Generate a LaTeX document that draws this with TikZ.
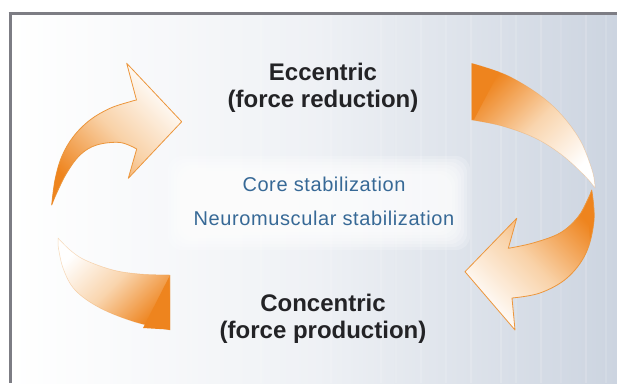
\documentclass[tikz,border=0pt]{standalone}
\usepackage{fontspec}
\setmainfont{Liberation Sans}
\newfontfamily\bluefont[LetterSpace=3]{Liberation Sans}
\definecolor{org}{RGB}{238,132,30}
\definecolor{orgmid}{RGB}{245,185,120}
\definecolor{orgline}{RGB}{236,150,60}
\definecolor{bgR}{RGB}{204,212,224}
\definecolor{txt}{RGB}{35,35,38}
\definecolor{blu}{RGB}{55,105,150}
\definecolor{framec}{RGB}{125,125,132}
\tikzset{
  arrowbody/.style={draw=orgline, line width=0.8pt, line join=round},
  piecebody/.style={draw=orgline, draw opacity=0.35, line width=0.5pt, line join=round},
  bigtext/.style={font=\fontsize{24}{27}\selectfont\bfseries, text=txt, anchor=base, inner sep=0pt},
  bluetext/.style={font=\bluefont\fontsize{20}{24}\selectfont, text=blu, anchor=base, inner sep=0pt},
  hilite/.style={fill=org, draw=none}
}
\begin{document}
\begin{tikzpicture}[x=1pt,y=-1pt]
\useasboundingbox (0,0) rectangle (617,383);
% background
\fill[white] (0,0) rectangle (617,383);
\shade[left color=white, right color=bgR, middle color=white!68!bgR] (10,13) rectangle (617,383);
\foreach \x/\o in {120/0.12,190/0.1,260/0.1,330/0.12,380/0.14,395/0.1,420/0.14,445/0.12,470/0.15,500/0.16,515/0.12,540/0.15,560/0.1,585/0.15,605/0.12}
  \fill[white, opacity=\o] (\x,15) rectangle (\x+2,383);
% glow box behind the centre text
\foreach \i in {0,...,6}
  \fill[white, opacity=0.2, rounded corners=14] (168+\i*3,156+\i*3) rectangle (470-\i*3,250-\i*3);
% frame
\draw[framec, line width=3pt] (8.5,13.5) -- (617,13.5);
\draw[framec, line width=2.5pt] (10.5,12) -- (10.5,383);

% upper-left arrow (pointing right)
\draw[arrowbody, top color=white, bottom color=org, middle color=orgmid!65!white, shading angle=-45]
  plot[smooth, tension=0.6] coordinates {(51.7,205) (55,180) (61.7,156.7) (73.3,136.7) (90,120) (110,108.3) (130,101.7) (136.5,100)}
  -- (126.7,63.3) -- (181.7,121.7) -- (128.3,178.3) -- (136.7,149)
  -- plot[smooth, tension=0.6] coordinates {(136.7,149) (120,142.5) (96.7,145) (80,155) (66.7,173) (56.7,193) (51.7,205)}
  -- cycle;
\fill[hilite] (51.7,205) -- (55,180) -- (59,165) -- (60,182) -- cycle;

% lower-left piece
\draw[piecebody, top color=white, bottom color=org, middle color=orgmid!60!white, shading angle=45]
  plot[smooth, tension=0.6] coordinates {(58,238) (70,250) (85,260) (113,270) (140,274) (170,275)}
  -- (170,330)
  -- plot[smooth, tension=0.6] coordinates {(170,330) (135,322) (100,308) (75,290) (63,268) (58,245)}
  -- cycle;
\fill[hilite] (143,328) -- (169.6,276) -- (169.6,329.6) -- cycle;

% upper-right piece
\draw[piecebody, top color=org, bottom color=white, middle color=orgmid!60!white, shading angle=45]
  plot[smooth, tension=0.6] coordinates {(471.7,63.3) (510,76.7) (550,103.3) (578,136.7) (592,170) (595,188)}
  -- plot[smooth, tension=0.6] coordinates {(595,188) (585,176) (562,155) (535,138) (502,126) (471.7,120)}
  -- cycle;
\fill[hilite] (472.1,63.8) -- (499,72) -- (474,119.5) -- (472.1,119.5) -- cycle;

% lower-right arrow (pointing left)
\draw[arrowbody, top color=org, bottom color=white, middle color=orgmid!65!white, shading angle=-45]
  plot[smooth, tension=0.6] coordinates {(591.7,190) (594,220) (586,253) (567,278) (540,293) (512,298)}
  -- (515,330) -- (465,271.7) -- (516.7,218.3) -- (508.3,248.3)
  -- plot[smooth, tension=0.6] coordinates {(508.3,248.3) (533,243) (560,233) (578,217) (588,199) (591.7,190)}
  -- cycle;
\fill[hilite] (591.7,191) -- (594,220) -- (590,240) -- (588,210) -- cycle;

% texts
\node[bigtext] (ecc1) at (323,80) {Eccentric};
\node[bigtext] (ecc2) at (323,107) {(force reduction)};
\node[bluetext] (core) at (324,191.7) {Core stabilization};
\node[bluetext] (neuro) at (324,225) {Neuromuscular stabilization};
\node[bigtext] (con1) at (323,311) {Concentric};
\node[bigtext] (con2) at (323,338) {(force production)};
\end{tikzpicture}
\end{document}
